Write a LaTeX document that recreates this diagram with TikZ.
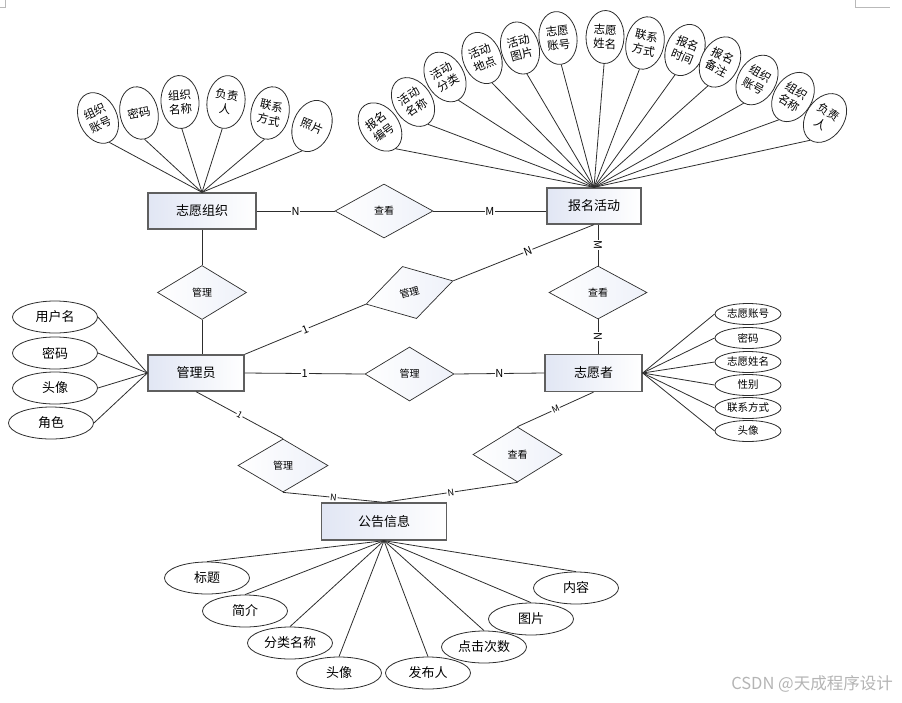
\documentclass[tikz,border=0pt]{standalone}
\usepackage{fontspec}
\setmainfont{Noto Sans CJK SC}
\usetikzlibrary{shapes.geometric}
\definecolor{erline}{RGB}{45,45,45}
\definecolor{erbox}{RGB}{95,95,95}
\definecolor{erfill}{RGB}{225,230,244}
\definecolor{errel}{RGB}{238,241,249}
\definecolor{ermark}{RGB}{185,185,185}
\definecolor{erwm}{RGB}{180,180,180}
\tikzset{
  ent/.style={
    draw=erbox, line width=1.3pt, left color=erfill, right color=white,
    minimum height=36pt, inner sep=0pt, font=\fontsize{13}{15}\selectfont
  },
  rel/.style={
    diamond, draw=erline, line width=0.7pt, left color=white, right color=errel,
    inner sep=0pt, font=\fontsize{10}{12}\selectfont
  },
  vattr/.style={
    ellipse, draw=erline, line width=0.8pt, fill=white, inner sep=0pt,
    minimum width=38pt, minimum height=53pt, align=center,
    font=\fontsize{11.5}{14}\selectfont
  },
  hattr/.style={
    ellipse, draw=erline, line width=0.8pt, fill=white, inner sep=0pt,
    minimum width=85pt, minimum height=32pt, font=\fontsize{13}{15}\selectfont
  },
  sattr/.style={
    ellipse, draw=erline, line width=0.8pt, fill=white, inner sep=0pt,
    minimum width=66pt, minimum height=21pt, font=\fontsize{10.5}{12}\selectfont
  },
  lnk/.style={draw=erline, line width=0.8pt},
  card/.style={fill=white, inner sep=0.8pt, font=\fontsize{11}{12}\selectfont},
  scard/.style={card, font=\fontsize{9}{10}\selectfont}
}
\begin{document}
\begin{tikzpicture}[x=1pt, y=-1pt]
  \useasboundingbox (0,0) rectangle (902,702);
  % page corner marks
  \draw[ermark, line width=0.8pt] (0,7) -- (5,7) -- (5,0);
  \draw[ermark, line width=0.8pt] (855,0) -- (855,7) -- (890,7);

  % entities
  \node[ent, minimum width=108pt] (zz) at (202,211) {志愿组织};
  \node[ent, minimum width=94pt] (ba) at (594,206) {报名活动};
  \node[ent, minimum width=96pt] (gly) at (196,373) {管理员};
  \node[ent, minimum width=97pt, minimum height=37pt] (zyz) at (593.5,373) {志愿者};
  \node[ent, minimum width=125pt, minimum height=37pt] (ggxx) at (384,521.5) {公告信息};

  % relations
  \node[rel, minimum width=98pt, minimum height=54pt] (ck1) at (384,211) {查看};
  \node[rel, minimum width=89pt, minimum height=54pt] (gl1) at (202,292.5) {管理};
  \node[rel, minimum width=90pt, minimum height=54pt, rotate=15] (rd) at (409.5,292.5) {管理};
  \node[rel, minimum width=98pt, minimum height=53pt] (ck2) at (598,292.5) {查看};
  \node[rel, minimum width=89pt, minimum height=54pt] (gl2) at (409.5,374) {管理};
  \node[rel, minimum width=90pt, minimum height=53pt] (gl3) at (283,465.5) {管理};
  \node[rel, minimum width=89pt, minimum height=55pt] (ck3) at (517.5,454.5) {查看};

  % links
  \draw[lnk] (zz.east) -- node[card] {N} (ck1.west);
  \draw[lnk] (ck1.east) -- node[card] {M} (ck1.east -| ba.west);
  \draw[lnk] (zz.south) -- (gl1.north);
  \draw[lnk] (gl1.south) -- (gl1.south |- gly.north);
  \draw[lnk] (gly.north east) -- node[card, sloped] {1} (rd.west);
  \draw[lnk] (rd.east) -- node[card, sloped, pos=0.53] {N} (ba.south);
  \draw[lnk] (ck2.north |- ba.south) -- node[card, sloped] {M} (ck2.north);
  \draw[lnk] (ck2.south) -- node[card, sloped] {N} (ck2.south |- zyz.north);
  \draw[lnk] (gly.east) -- node[card] {1} (gl2.west);
  \draw[lnk] (gl2.east) -- node[card] {N} (zyz.west);
  \draw[lnk] (gly.south) -- node[scard, sloped] {1} (gl3.north);
  \draw[lnk] (gl3.south) -- node[scard, sloped] {N} (ggxx.north);
  \draw[lnk] (zyz.south) -- node[scard, sloped] {M} (ck3.north);
  \draw[lnk] (ck3.south) -- node[scard, sloped] {N} (ggxx.north);

  % attributes of 志愿组织
  \foreach \x/\y/\r/\t [count=\i] in {98/118/25/组织\\账号, 139/113/12/密码,
      180/102/4/组织\\名称, 226/102/-8/负责\\人, 270/113/-12/联系\\方式, 312/126/-22/照片} {
    \node[vattr, rotate=\r] (za\i) at (\x,\y) {\t};
    \draw[lnk] (za\i.south) -- (zz.north);
  }
  % attributes of 报名活动
  \foreach \x/\y/\r/\t [count=\i] in {380/127/36/报名\\编号, 413/102/34/活动\\名称,
      445/77/30/活动\\分类, 482/58/22/活动\\地点, 520/48/15/活动\\图片, 558/38/7/志愿\\账号,
      605/37/-2/志愿\\姓名, 645/43/-12/联系\\方式, 685/50/-22/报名\\时间, 720/62/-27/报名\\备注,
      757/80/-30/组织\\账号, 793/97/-32/组织\\名称, 825/118/-34/负责\\人} {
    \node[vattr, rotate=\r] (ba\i) at (\x,\y) {\t};
    \draw[lnk] (ba\i.south) -- (ba.north);
  }
  % attributes of 管理员
  \foreach \x/\y/\t [count=\i] in {55/317/用户名, 55/353/密码, 55/388/头像, 51/423/角色} {
    \node[hattr] (ga\i) at (\x,\y) {\t};
    \draw[lnk] (ga\i.east) -- (gly.west);
  }
  % attributes of 志愿者
  \foreach \y/\t [count=\i] in {314/志愿账号, 338/密码, 362/志愿姓名, 385/性别, 408/联系方式, 431/头像} {
    \node[sattr] (zy\i) at (748,\y) {\t};
    \draw[lnk] (zy\i.west) -- (zyz.east);
  }
  % attributes of 公告信息
  \foreach \x/\y/\t [count=\i] in {207/578/标题, 245/611/简介, 290/643/分类名称, 339/673/头像,
      428/673/发布人, 484/647/点击次数, 531/619/图片, 576/588/内容} {
    \node[hattr] (gg\i) at (\x,\y) {\t};
    \draw[lnk] (gg\i.north) -- (ggxx.south);
  }

  \node[text=erwm, font=\fontsize{16.5}{18}\selectfont] (wm) at (812,684) {CSDN @天成程序设计};
\end{tikzpicture}
\end{document}
